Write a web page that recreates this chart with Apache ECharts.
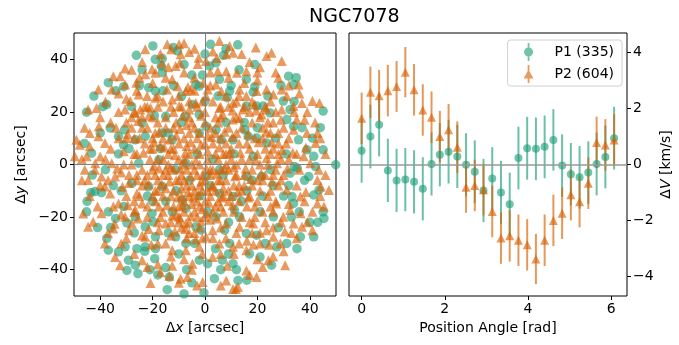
<!DOCTYPE html>
<html>
<head>
<meta charset="utf-8">
<script src="https://cdn.jsdelivr.net/npm/echarts@6/dist/echarts.min.js"></script>
<style>
html, body { margin: 0; padding: 0; background: #fff; }
#chart { width: 679px; height: 345px; }
</style>
</head>
<body>
<div id="chart"></div>
<script>
// left panel: star positions [dx, dy] in arcsec
var p1Pos = [
  [-19.9,45.1],[-26.2,41.5],[-16.3,40.3],[-16.7,37.5],[-16.3,34.9],[-12.1,44.5],[-10.5,43.2],[2.1,45.7],[12.5,45.5],[1.7,37.5],
  [4.2,38.7],[7.1,41.5],[-36.9,31.1],[-42.4,26],[-37.5,22.8],[-45.2,19.9],[-31,29.6],[-21.5,29.2],[-18.9,27.9],[-19.3,18.6],
  [-8.9,26],[-4.8,22.8],[-2.2,29.8],[-3.5,30.4],[5.5,32.4],[9.4,27.9],[8.5,25.4],[15.8,32.4],[19,29.6],[18.4,27.5],
  [31.9,33.6],[34.8,33],[33.8,30.4],[22.2,22.2],[24.8,19.6],[29.9,24.1],[32.5,20.9],[45.1,20.3],[15.8,22.2],[19.7,22.2],
  [-36.2,13.9],[-33,10.7],[-30.7,13.2],[-31.1,7.5],[-26.6,9.4],[-24,15.8],[-22.8,10.7],[-16.3,12],[-15,18.3],[-7.6,18.3],
  [-2.2,19],[15.2,13.2],[16.5,10.7],[19.7,10.1],[23.5,8.2],[31.2,17.1],[33.8,14.5],[35.7,9.4],[38.9,5.6],[41.5,3.1],
  [45.1,5.6],[-43.3,4.3],[34.1,-0.8],[35.2,-1.4],[32.5,-3.3],[-43.6,-10.7],[-42,-10.3],[-39.5,-10.7],[-45.2,-18],[-36.9,-18],
  [-34.1,-20.5],[-29.8,-22.2],[-26.6,-19.9],[-22.8,-23.7],[-20.2,-18.6],[-19.8,-21.8],[-12.5,-18],[-8.6,-13.5],[-7.3,-16.7],[-30.5,-31.3],
  [-33,-33.2],[-29.2,-36.4],[-26.6,-38.3],[-29.8,-40.3],[-25.6,-41.5],[-22.8,-31.3],[-19.2,-35.8],[-15,-39.2],[-13.6,-42.8],[-14.4,-47.6],
  [-8,-49.2],[-0.4,-48.8],[-2.2,-36.4],[1,-37.7],[3.6,-43.4],[6.6,-36.4],[10.7,-37.7],[12.6,-44.1],[7.5,-25],[15.8,-26.2],
  [19.7,-26.9],[11.3,-17.3],[13.2,-19.9],[26.1,-19.9],[21,-35.2],[25.4,-38.3],[27.4,-31.3],[31.2,-30],[35.1,-32],[36.4,-27.5],
  [41.5,-27.5],[33.2,-12.2],[33.8,-14.8],[41.5,-11.6],[43.5,-9.7],[45.1,-18],[45.4,-20.5],[39.6,-4.6],[42.2,-0.8],[49.9,-0.1],
  [-2.2,12],[0.4,14.5],[4.2,13.2],[6.2,9.4],[10.7,9.4],[-7.3,0.5],[-11.2,-2],[-16.3,-8.4],[5.5,-11],[10.7,-12.2],
  [15.8,-4.6],[21.6,-4.6],[0.4,-4.6],[5.5,-2],[18.4,3.1],[-12.5,9.4],[-17.6,1.8],[-25.3,0.5],[-27.9,-7.1],[-21.5,-8.4],
  [-3.5,-23.7],[-1.5,-25],[4.2,-19.9],[9.4,-30],[-7.3,-30],[-11.2,-27.5],[-18.9,-27.5],[-18.9,-32],[-37.5,-28.1],[-36.9,-32.6],
  [-40,12],[-38,-2],[-35,-8],[-33,4],[-31,-16],[-28,22],[-27,-26],[-25,30],[-23,-33],[-20,-14],
  [-18,-42],[-16,28],[-14,-26],[-12,30],[-10,-34],[-9,16],[-6,-6],[-5,34],[-4,-30],[-2,-12],
  [0,24],[1,-18],[3,2],[4,-32],[5,26],[7,-4],[8,16],[9,-22],[10,30],[11,4],
  [12,-40],[14,-14],[15,16],[17,-34],[18,-6],[20,14],[21,-18],[23,-30],[24,26],[25,-2],
  [27,10],[28,-24],[29,30],[30,-12],[31,4],[33,-20],[34,24],[36,-18],[37,14],[38,-6],
  [40,-22],[41,10],[-43,-4],[-41,-24],[-39,22],[-36,-24],[-34,28],[-32,-10],[-29,6],[-26,-32],
  [-24,36],[-21,-40],[-17,6],[-14,12],[-11,-10],[-8,38],[-7,-40],[-3,4],[-1,34],[2,-8],
  [6,-40],[9,-34],[13,36],[16,-10],[19,38],[22,-12],[26,-8],[32,-8],[-22,-12],[-15,-14],
  [-45,-14],[-46,8],[-19,40],[0,42],[8,44],[44,14],[43,-22],[16,-44],[-5,-45]
];
var p2Pos = [
  [-14.4,45.7],[-9.9,45.7],[-8,46.1],[-12.9,43.8],[-9.3,41.9],[-6,42.8],[-2.4,40.6],[-9.6,38.7],[-11.2,37.5],[-22.8,43.8],
  [-20.2,36.2],[5.5,47],[9.4,45.1],[8.1,41.9],[10.7,42.5],[19.4,44.5],[23.5,41.3],[25.4,42.5],[29.3,39.4],[0.4,39.4],
  [-2.8,38.2],[4.9,35.5],[8.1,35.5],[12.2,34.9],[15.8,35.5],[-35,33.6],[-32.4,33.6],[-30.5,30.4],[-26.2,31.1],[-22.8,34.3],
  [-18.9,34.9],[-40.7,28.5],[-35.6,28.5],[-28.5,24.1],[-25.3,26.6],[-22.1,26],[-18.9,25.4],[-20.8,21.6],[-44.6,20.9],[-41.4,21.5],
  [-30.5,20.9],[-26.6,19.6],[-24.7,20.9],[-12.5,32.4],[-10.5,29.8],[-7.3,27.9],[-5.4,28.5],[-0.6,31.1],[1,28.5],[0.4,26],
  [-12.5,24.7],[-9.9,22.2],[-6,20.9],[-3.5,23.4],[4.2,30.4],[6.2,27.9],[13.2,28.5],[15.8,26],[19.7,27.9],[23.5,28.5],
  [26.1,26.6],[29.3,28.5],[31.2,26],[35.7,30.4],[37,23.4],[41,24.1],[43.7,23.4],[10.7,23.4],[14.5,20.9],[19,22.8],
  [21.6,19],[23.5,20.9],[29.3,20.9],[33.8,22.2],[6.8,19],[10.7,17.1],[13.2,17.7],
  [-49.1,9.4],[-47.8,7.5],[-49.7,3.1],[-45.2,3.1],[-44,6.9],[-40.7,10.7],[-38.2,8.2],[-45.9,-2],[-41.9,0.5],[-39.5,-4.6],
  [-44.6,-5.9],[-38.2,-8.4],[-35.6,0.5],[-34.3,-4.6],[-36.2,-11],[-46.5,-18.6],[-42.7,-21.8],[-44.6,-23.7],[-35,-24.3],
  [-38.2,-30],[-34.3,-35.2],[-32.4,-38.3],[-24,-36.4],[-20.8,-45.1],[-9.3,-43.4],[-6.7,-42.8],[-13.6,-42.3],[-0.9,-44.7],[8.1,-44.1],
  [10.7,-47.3],[11.8,-47.3],[12.6,-46.6],[19.7,-42.8],[15.8,-40.3],[30.6,-38.3],[24.2,-36.4],[28.8,-30],
  [33.8,-22.4],[37,-23.7],[41,-25],[42.9,-14.8],[45.4,-16],[47.3,-9.7],[44.2,-8.4],[42.9,-5.9],[37.7,3.1],[40.2,0.5],
  [43.4,-2],[42.2,8.2],[42.9,12],[35,17.1],[33.8,13.2],[38.9,12],
  [-30.5,-19.9],[-27.9,-22.4],[-26.6,-17.3],[-24,-14.8],[-33,-14.8],[-22.8,-27.5],[-17.6,-25],[-15,-30],[-12.5,-32.6],[-7.3,-32.6],
  [-4.8,-37.7],[-2.2,-31.3],[2.9,-35.2],[5.5,-30],[10.7,-31.3],[15.8,-32.6],[21,-30],[23.5,-25],[26.1,-27.5],[18.4,-22.4],
  [13.2,-23.7],[8.1,-22.4],[2.9,-25],[0.4,-27.5],[29.9,-19.9],[32.5,-17.3],[27.2,-14.8],[31.2,-9.7],[36.4,-12.2],[-9.9,-19.9],
  [-7.3,-22.4],[-15,-22.4],[-17.6,-16],
  [-28,14],[-25,10],[-22,14],[-20,6],[-18,16],[-16,10],[-14,4],[-12,14],[-10,8],[-8,2],
  [-6,12],[-4,6],[-2,0],[0,8],[2,14],[4,4],[6,10],[8,0],[10,6],[12,12],
  [14,2],[16,8],[18,-2],[20,4],[22,10],[24,0],[26,6],[28,12],[30,-4],[-28,0],
  [-26,-4],[-24,-8],[-20,-2],[-18,-6],[-16,-12],[-14,-4],[-12,-10],[-10,-16],[-8,-6],[-6,-12],
  [-4,-18],[-2,-8],[0,-14],[2,-4],[4,-10],[6,-16],[8,-6],[10,-12],[12,-4],[14,-10],
  [16,-16],[18,-8],[20,-14],[22,-6],[24,-12],[26,-18],[28,-8],[-30,16],[-27,20],[-24,18],
  [-22,22],[-18,22],[-15,18],[-12,20],[-9,22],[-6,18],[-3,22],[0,20],[3,24],[6,18],
  [9,22],[12,18],[15,22],[18,16],[21,18],[24,16],[27,20],[-30,-12],[-27,-18],[-22,-20],
  [-19,-14],[-13,-22],[-11,-6],[-9,-12],[-7,-2],[-5,-8],[-3,-14],[-1,-4],[1,-10],[3,-18],
  [5,-6],[7,-12],[9,-2],[11,-18],[13,-8],[15,-4],[17,-12],[19,-20],[21,-10],[23,-4],
  [25,-16],[27,-2],[-10,2],[-9,-4],[-6,4],[-4,-2],[-2,4],[1,2],[3,-2],[5,2],
  [-7,-8],[-5,0],[-1,-10],[2,-12],[0,-6],[-3,-20],[-8,-18],[-12,-16],[6,-2],[8,8],
  [10,2],[-14,0],[-16,-4],[-20,10],[-18,2],[-22,-4],[-11,11],[-7,7],[-3,10],[1,5],
  [4,12],[7,4],[11,-1],[-13,-1],[-9,-9],[-5,-15],[-1,-17],[3,-8],[7,-9],[-2,-24],
  [2,-21],[-6,-26],[-10,-22],[9,-14],[13,-14],[17,2],[19,10],[21,0],[23,6],[-17,7],
  [-21,2],[-23,8],[-26,4],[-15,-9],[-19,-10],[-24,-2],[-7,15],[-4,14],[1,11],[5,16],
  [-13,6],[14,14],[25,12],[28,4],[-31,5],[-32,-3],[-29,-7],[-33,10],[-26,-11],[31,8],
  [32,2],[30,14],
  [-44,12],[-46,14],[-40,18],[-38,24],[-33,27],[-28,36],[-24,39],[-17,42],[-4,44],[3,43],
  [14,42],[17,39],[21,37],[27,35],[32,30],[36,27],[39,20],[42,16],[44,10],[46,4],
  [46,-4],[44,-12],[41,-18],[39,-22],[35,-28],[30,-33],[26,-35],[22,-39],[17,-42],[6,-46],
  [-3,-46],[-10,-45],[-17,-41],[-22,-39],[-27,-34],[-32,-30],[-37,-26],[-41,-16],[-44,-12],[-47,-6],
  [-47,2],[-42,-2],[-40,3],
  [-36,16],[-33,20],[-30,25],[-26,28],[-20,31],[-15,33],[-8,35],[-4,33],[2,35],[9,33],
  [15,31],[20,32],[25,24],[29,17],[32,10],[35,4],[36,-2],[35,-8],[32,-15],[29,-22],
  [26,-24],[21,-26],[16,-29],[11,-34],[6,-34],[-1,-34],[-8,-36],[-13,-35],[-18,-30],[-24,-27],
  [-29,-25],[-32,-19],[-35,-16],[-37,-6],[-38,2],[-36,6],[-34,14],[-25,33],[-14,37],[20,35],
  [28,33],[34,20],[38,17],[38,-14],[33,-26],[20,-36],[-5,-40],[-18,-38],[-30,-28],[-40,-8],
  [-20,18],[-16,24],[-10,26],[-4,28],[2,30],[8,26],[12,24],[17,20],[22,14],[25,4],
  [26,-4],[25,-10],[22,-18],[17,-22],[12,-26],[6,-24],[-1,-28],[-7,-28],[-13,-27],[-18,-22],
  [-22,-16],[-25,-12],[-26,-6],[-27,4],[-27,10],[-24,14],[-19,12],[-15,14],[-11,16],[-5,16],
  [0,16],[4,18],[9,14],[13,8],[17,6],[20,-6],[19,-16],[14,-20],[7,-18],[0,-20],
  [-6,-22],[-11,-19],[-16,-18],[-20,-12],[-23,-6],[-21,6],[-16,2],[-12,6],[-8,10],[-2,12],
  [3,8],[8,4],[12,0],[15,-8],[11,-8],[5,-14],[-2,-16],[-8,-14],[-13,-12],[-18,-10],
  [-12,-2],[-8,0],[-3,-4],[2,-2],[6,-6],[9,-10],[4,-16],[-4,-10],[-10,-6],[-15,-2],
  [-19,-4],[-17,-20],[-9,-24],[-4,-26],[3,-28],[8,-28],[13,-30],[18,-26],[23,-22],[27,-14],
  [29,-6],[29,2],[28,8],[26,16],[23,22],[18,24],[13,26],[6,22],[-1,24],[-6,24],
  [-13,22],[-18,26],[-23,22],[-28,18],[-30,10],[-31,0],[-29,-4],[-27,-14],
  [-17.5,-1.5],[-15.5,6.5],[-13.5,-6.5],[-11.5,3.5],[-9.5,-1.5],[-7.5,4.5],[-5.5,-4.5],[-3.5,1.5],[-1.5,-6.5],[0.5,-1.5],
  [2.5,-8.5],[4.5,-3.5],[-6.5,-10.5],[-4.5,-12.5],[-8.5,-15.5],[-10.5,-12.5],[-2.5,-11.5],[0.5,-18.5],[-5.5,-19.5],[-9.5,-20.5],
  [-14.5,-15.5],[-12.5,-19.5],[-7.5,-24.5],[-1.5,-21.5],[1.5,-14.5],[-16.5,-7.5],[-19.5,-0.5],[-21.5,-7.5],[-23.5,4.5],[-19.5,8.5],
  [-17.5,12.5],[-13.5,9.5],[-9.5,13.5],[-5.5,8.5],[-1.5,7.5],[2.5,10.5],[5.5,6.5],[7.5,-1.5],[9.5,4.5],[11.5,-4.5],
  [13.5,4.5],[15.5,-1.5],[17.5,-5.5],[19.5,1.5],[21.5,-3.5],[23.5,2.5],[25.5,-6.5],[27.5,0.5],[29.5,5.5],[31.5,-1.5],
  [33.5,4.5],[20.5,8.5],[16.5,11.5],[10.5,10.5],[7.5,12.5],[12.5,-10.5],[16.5,-12.5],[10.5,-15.5],[6.5,-12.5],[4.5,-20.5],
  [-3.5,-28.5],[-11.5,-25.5],[-21.5,-24.5],[-25.5,-20.5],[-29.5,-15.5],[-31.5,-8.5],[-33.5,-1.5],[-29.5,11.5],[-25.5,16.5],[-21.5,18.5],
  [-8.5,18.5],[-1.5,18.5],[5.5,21.5],[10.5,20.5],[19.5,20.5],[23.5,12.5],[25.5,8.5],[-6.5,29.5],[-14.5,28.5],[-20.5,-30.5],
  [-12.5,-38.5],[8.5,-38.5],[18.5,-30.5],[30.5,-25.5],[36.5,-18.5],[38.5,-10.5],[38.5,6.5],[24.5,-30.5],[-34.5,-22.5],[-39.5,-18.5],
  [-40.5,14.5],[-16.5,38.5],[4.5,40.5],[-30.5,36.5]
];

// right panel: binned velocity vs position angle
var angles = [0, 0.21, 0.42, 0.63, 0.84, 1.05, 1.26, 1.47, 1.68, 1.88,
  2.09, 2.30, 2.51, 2.72, 2.93, 3.14, 3.35, 3.56, 3.77, 3.98,
  4.19, 4.40, 4.61, 4.82, 5.03, 5.24, 5.45, 5.65, 5.86, 6.07];
var p1V = [0.49, 1.0, 1.42, -0.21, -0.57, -0.54, -0.62, -0.87, 0.02, 0.35,
  0.46, 0.29, -0.01, -0.26, -0.93, -0.5, -1.0, -1.42, 0.23, 0.58,
  0.56, 0.63, 0.88, -0.04, -0.35, -0.46, -0.29, 0.02, 0.27, 0.94];
var p1Err = [1.14, 1.14, 1.13, 1.13, 1.13, 1.13, 1.13, 1.13, 1.13, 1.13,
  1.14, 1.13, 1.13, 1.12, 1.13, 1.12, 1.13, 1.13, 1.12, 1.12,
  1.12, 1.12, 1.1, 1.12, 1.12, 1.12, 1.12, 1.12, 1.12, 1.12];
var p2V = [1.65, 2.58, 2.46, 2.64, 2.79, 3.3, 2.67, 1.95, 1.69, 1.0,
  1.24, 0.62, -0.81, -0.75, -0.9, -1.68, -2.63, -2.55, -2.71, -2.87,
  -3.38, -2.71, -2.0, -1.74, -1.08, -1.33, -0.67, 0.79, 0.7, 0.88];
var p2Err = [0.92, 0.92, 0.92, 0.92, 0.91, 0.9, 0.92, 0.92, 0.92, 0.92,
  0.92, 0.92, 0.92, 0.92, 0.92, 0.92, 0.92, 0.92, 0.92, 0.92,
  0.9, 0.92, 0.92, 0.92, 0.92, 0.92, 0.92, 0.92, 0.92, 0.92];

var xyTicks = [-40, -20, 0, 20, 40];
var paTicks = [0, 2, 4, 6];
var vTicks = [-4, -2, 0, 2, 4];
var names = ['P1 (335)', 'P2 (604)'];

var green = 'rgba(27,158,119,0.78)';
var greenBar = 'rgba(27,158,119,0.65)';
var orange = 'rgba(217,95,2,0.78)';
var orangeBar = 'rgba(217,95,2,0.65)';
var font = 'DejaVu Sans';

var myChart = echarts.init(document.getElementById('chart'));

function fmt(v) {
    return String(v).replace('-', '\u2212');
}

function valAxis(idx, min, max, ticks, extra) {
    var ax = {
        type: 'value',
        gridIndex: idx,
        min: min,
        max: max,
        splitLine: { show: false },
        axisLine: { show: false, onZero: false },
        axisTick: { show: true, length: 4, customValues: ticks, lineStyle: { color: '#000', width: 1 } },
        axisLabel: { customValues: ticks, color: '#000', fontFamily: font, fontSize: 14, margin: 6, formatter: fmt },
        nameLocation: 'middle',
        nameTextStyle: { color: '#000', fontFamily: font, fontSize: 14 }
    }
    return Object.assign(ax, extra || {})
}

function errData(vals, errs) {
    return angles.map(function (a, i) { return [a, vals[i] - errs[i], vals[i] + errs[i]] })
}

function errSeries(vals, errs, color) {
    return {
        type: 'custom',
        xAxisIndex: 1,
        yAxisIndex: 1,
        silent: true,
        encode: { x: 0, y: [1, 2] },
        data: errData(vals, errs),
        z: 3,
        renderItem: function (params, api) {
            var lo = api.coord([api.value(0), api.value(1)]);
            var hi = api.coord([api.value(0), api.value(2)]);
            return {
                type: 'line',
                shape: { x1: lo[0], y1: lo[1], x2: hi[0], y2: hi[1] },
                style: { stroke: color, lineWidth: 2 }
            }
        }
    }
}

function pairs(vals) {
    return angles.map(function (a, i) { return [a, vals[i]] })
}

var italic = { i: { fontStyle: 'italic', fontFamily: font, fontSize: 14, color: '#000' } };

var options = {
    animation: false,
    backgroundColor: '#fff',
    title: {
        text: 'NGC7078',
        left: 304,
        top: 3,
        textStyle: { color: '#000', fontFamily: font, fontSize: 19, fontWeight: 'normal' }
    },
    legend: {
        data: [
            { name: names[0], icon: 'path://M5,0h2v20h-2z M1,10a5,5 0 1,1 10,0a5,5 0 1,1 -10,0z' },
            { name: names[1], icon: 'path://M5,0h2v20h-2z M6,5L11.5,15L0.5,15z' }
        ],
        orient: 'vertical',
        right: 57,
        top: 40,
        itemWidth: 10,
        itemHeight: 18,
        itemGap: 4,
        padding: [3, 8, 3, 16],
        borderColor: '#d0d0d0',
        borderWidth: 1,
        borderRadius: 3,
        backgroundColor: 'rgba(255,255,255,0.8)',
        textStyle: { color: '#000', fontFamily: font, fontSize: 14, padding: [0, 0, 0, 16] }
    },
    grid: [
        { left: 74, top: 33, width: 262, height: 263, show: true, borderColor: '#000', borderWidth: 1, backgroundColor: '#fff' },
        { left: 349, top: 33, width: 278, height: 263, show: true, borderColor: '#000', borderWidth: 1, backgroundColor: '#fff' }
    ],
    xAxis: [
        valAxis(0, -50, 50, xyTicks, {
            name: '\u0394{i|x} [arcsec]', nameGap: 24,
            nameTextStyle: { color: '#000', fontFamily: font, fontSize: 14, rich: italic }
        }),
        valAxis(1, -0.304, 6.38, paTicks, { name: 'Position Angle [rad]', nameGap: 24 })
    ],
    yAxis: [
        valAxis(0, -50, 50, xyTicks, {
            name: '\u0394{i|y} [arcsec]', nameGap: 46,
            nameTextStyle: { color: '#000', fontFamily: font, fontSize: 14, rich: italic }
        }),
        valAxis(1, -4.7, 4.7, vTicks, {
            position: 'right', name: '\u0394{i|V} [km/s]', nameGap: 32, nameRotate: 90,
            nameTextStyle: { color: '#000', fontFamily: font, fontSize: 14, rich: italic }
        })
    ],
    series: [
        {
            type: 'line', xAxisIndex: 0, yAxisIndex: 0, data: [], z: 1,
            markLine: {
                silent: true, symbol: 'none', label: { show: false },
                lineStyle: { color: '#808080', width: 1, type: 'solid' },
                data: [{ xAxis: 0 }, { yAxis: 0 }]
            }
        },
        {
            type: 'line', xAxisIndex: 1, yAxisIndex: 1, data: [], z: 1,
            markLine: {
                silent: true, symbol: 'none', label: { show: false },
                lineStyle: { color: '#999', width: 1.6, type: 'solid' },
                data: [{ yAxis: 0 }]
            }
        },
        {
            name: names[0], type: 'scatter', xAxisIndex: 0, yAxisIndex: 0,
            symbol: 'circle', symbolSize: 9.5, data: p1Pos, z: 2,
            itemStyle: { color: green }
        },
        {
            name: names[1], type: 'scatter', xAxisIndex: 0, yAxisIndex: 0,
            symbol: 'triangle', symbolSize: 10, data: p2Pos, z: 2,
            itemStyle: { color: orange }
        },
        errSeries(p1V, p1Err, greenBar),
        {
            name: names[0], type: 'scatter', xAxisIndex: 1, yAxisIndex: 1,
            symbol: 'circle', symbolSize: 8, data: pairs(p1V), z: 3,
            itemStyle: { color: green }
        },
        errSeries(p2V, p2Err, orangeBar),
        {
            name: names[1], type: 'scatter', xAxisIndex: 1, yAxisIndex: 1,
            symbol: 'triangle', symbolSize: 9, data: pairs(p2V), z: 3,
            itemStyle: { color: orange }
        }
    ]
};

myChart.setOption(options)
</script>
</body>
</html>
